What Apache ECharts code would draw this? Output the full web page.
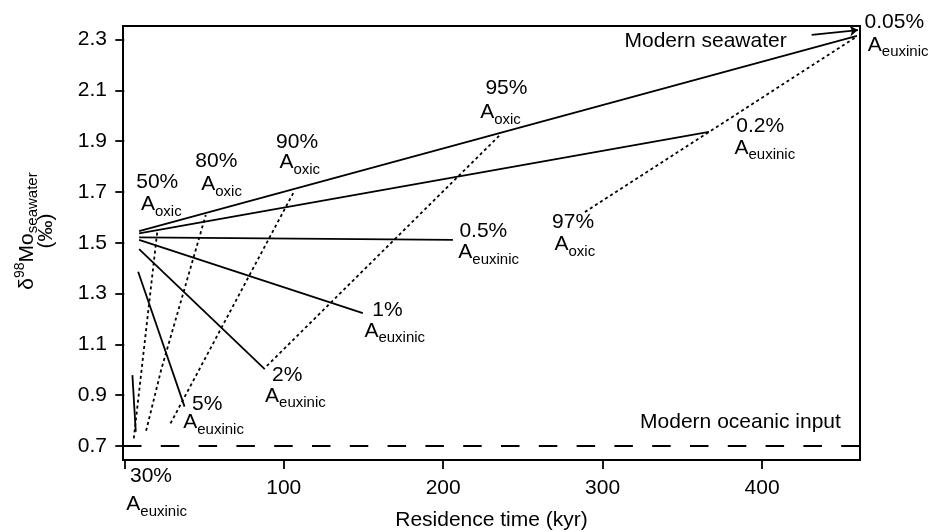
<!DOCTYPE html>
<html><head><meta charset="utf-8">
<script src="https://cdn.jsdelivr.net/npm/echarts@6/dist/echarts.min.js"></script>
<style>html,body{margin:0;padding:0;background:#fff}#c{width:933px;height:532px}</style>
</head><body><div id="c"></div>
<script>
const FONT = "'Liberation Sans', Arial, Helvetica, sans-serif";

const xTickValues = [0, 100, 200, 300, 400];
const xLabelValues = [100, 200, 300, 400];
const yTickValues = [0.7, 0.9, 1.1, 1.3, 1.5, 1.7, 1.9, 2.1, 2.3];

// solid lines: constant A_euxinic
const euxinic005 = [[9.3, 1.546], [459.5, 2.314]];
const euxinic02  = [[9.3, 1.537], [366.7, 1.936]];
const euxinic05  = [[9.3, 1.521], [206.1, 1.511]];
const euxinic1   = [[9.3, 1.511], [149.6, 1.223]];
const euxinic2   = [[9.3, 1.475], [88.1, 1.003]];
const euxinic5   = [[8.7, 1.386], [37.8, 0.855]];
const euxinic30  = [[5.1, 0.979], [7.2, 0.756]];

// dotted lines: constant A_oxic
const oxic50 = [[5.96, 0.730], [20.7, 1.544]];
const oxic80 = [[13.7, 0.760], [23.1, 0.999], [51.1, 1.609]];
const oxic90 = [[29.0, 0.789], [106.0, 1.696]];
const oxic95 = [[89.4, 1.015], [235.6, 1.924]];
const oxic97 = [[288.9, 1.621], [366.7, 1.936], [459.5, 2.312]];

// reference lines
const oceanicInput = [[-0.8, 0.7], [461.4, 0.7]];
const seawaterArrow = [[431.1, 2.318], [460.1, 2.337]];

// annotation anchors (data coords): [x, y, text]
const pctLabels = [
  [7.8, 1.735, '50%'], [44.9, 1.819, '80%'], [95.5, 1.893, '90%'],
  [226.8, 2.108, '95%'], [268.6, 1.578, '97%'], [464.6, 2.366, '0.05%'],
  [384.1, 1.957, '0.2%'], [210.5, 1.544, '0.5%'], [155.9, 1.231, '1%'],
  [93.0, 0.976, '2%'], [42.8, 0.861, '5%'], [3.9, 0.579, '30%']
];
const subLabels = [
  [10.8, 1.649, 'oxic'], [48.6, 1.727, 'oxic'], [97.6, 1.814, 'oxic'],
  [223.5, 2.010, 'oxic'], [270.1, 1.491, 'oxic'], [466.6, 2.275, 'euxinic'],
  [383.0, 1.872, 'euxinic'], [209.8, 1.460, 'euxinic'], [150.9, 1.150, 'euxinic'],
  [88.6, 0.894, 'euxinic'], [37.3, 0.791, 'euxinic'], [1.6, 0.468, 'euxinic']
];
const noteLabels = [
  [314.0, 2.291, 'Modern seawater'],
  [323.8, 0.7925, 'Modern oceanic input']
];

const solidSets = [euxinic005, euxinic02, euxinic05, euxinic1, euxinic2, euxinic5, euxinic30];
const dottedSets = [oxic50, oxic80, oxic90, oxic95, oxic97];

const series = [];
solidSets.forEach(d => series.push({
  type: 'line', data: d, symbol: 'none', silent: true, z: 3,
  lineStyle: { color: '#000', width: 1.8 }
}));
dottedSets.forEach(d => series.push({
  type: 'line', data: d, symbol: 'none', silent: true, z: 3,
  lineStyle: { color: '#000', width: 1.8, type: [3, 3] }
}));
series.push({
  type: 'line', data: oceanicInput, symbol: 'none', silent: true, z: 3,
  lineStyle: { color: '#000', width: 1.9, type: [18.5, 19.3] }
});
series.push({
  type: 'lines', coordinateSystem: 'cartesian2d', silent: true, z: 4,
  symbol: ['none', 'arrow'], symbolSize: [6, 8],
  lineStyle: { color: '#000', width: 1.8, opacity: 1, curveness: 0 },
  data: [{ coords: seawaterArrow }]
});
function labelSeries(data, label) {
  return {
    type: 'scatter', data: data, symbolSize: 1, clip: false, silent: true, z: 5,
    itemStyle: { color: 'rgba(0,0,0,0)', opacity: 1 },
    label: Object.assign({
      show: true, position: [0, 0], align: 'left', verticalAlign: 'middle',
      color: '#000', opacity: 1, fontFamily: FONT, fontSize: 21
    }, label)
  };
}
series.push(labelSeries(pctLabels, { formatter: p => p.data[2] }));
series.push(labelSeries(noteLabels, { formatter: p => p.data[2] }));
series.push(labelSeries(subLabels, {
  formatter: p => '{a|A}{s|' + p.data[2] + '}',
  rich: {
    a: { fontSize: 21, lineHeight: 30, fontFamily: FONT, color: '#000' },
    s: { fontSize: 15, lineHeight: 16, padding: [14, 0, 0, 0], fontFamily: FONT, color: '#000' }
  }
}));

const chart = echarts.init(document.getElementById('c'), null, { renderer: 'canvas' });
chart.setOption({
  animation: false,
  backgroundColor: '#fff',
  grid: { left: 123, top: 26, width: 737, height: 434, outerBoundsMode: 'none', containLabel: false,
    show: true, borderColor: '#000', borderWidth: 2, backgroundColor: 'transparent' },
  xAxis: {
    type: 'value', min: -0.8, max: 461.4,
    name: 'Residence time (kyr)', nameLocation: 'middle', nameGap: 50,
    nameTextStyle: { fontSize: 21, fontFamily: FONT, color: '#000' },
    axisLine: { show: false },
    axisTick: { show: true, length: 9, lineStyle: { color: '#000', width: 1.8 }, customValues: xTickValues },
    axisLabel: { fontSize: 21, fontFamily: FONT, color: '#000', margin: 18, customValues: xLabelValues },
    splitLine: { show: false }
  },
  yAxis: {
    type: 'value', min: 0.645, max: 2.353,
    axisLine: { show: false },
    axisTick: { show: true, length: 9, lineStyle: { color: '#000', width: 1.8 }, customValues: yTickValues },
    axisLabel: { fontSize: 21, fontFamily: FONT, color: '#000', margin: 16, customValues: yTickValues,
      formatter: v => Number(v).toFixed(1) },
    splitLine: { show: false }
  },
  graphic: [
    { type: 'text', x: 27.5, y: 231, rotation: Math.PI / 2, silent: true,
      style: { text: 'δ{sup|98}Mo{sub|seawater}', align: 'center', verticalAlign: 'middle',
        textAlign: 'center', textVerticalAlign: 'middle', fill: '#000',
        fontSize: 21, fontFamily: FONT,
        rich: {
          sup: { fontSize: 14, lineHeight: 16, padding: [0, 0, 14, 0], fontFamily: FONT, fill: '#000' },
          sub: { fontSize: 15, lineHeight: 16, padding: [11, 0, 0, 0], fontFamily: FONT, fill: '#000' }
        } } },
    { type: 'text', x: 46.5, y: 231, rotation: Math.PI / 2, silent: true,
      style: { text: '(‰)', align: 'center', verticalAlign: 'middle',
        textAlign: 'center', textVerticalAlign: 'middle', fill: '#000',
        fontSize: 21, fontFamily: FONT } }
  ],
  series: series
});
</script></body></html>
